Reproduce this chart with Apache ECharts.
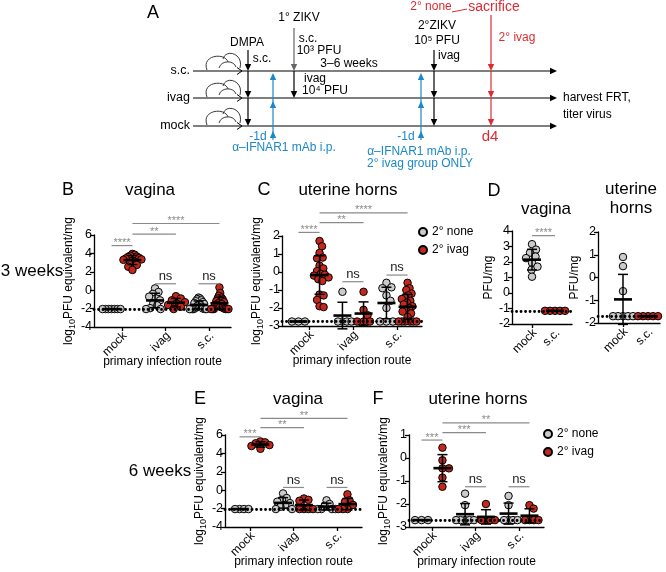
<!DOCTYPE html>
<html><head><meta charset="utf-8">
<script src="https://cdn.jsdelivr.net/npm/echarts@6/dist/echarts.min.js"></script>
<style>html,body{margin:0;padding:0;background:#fff}#c{width:666px;height:572px}</style>
</head><body><div id="c"></div>
<script>
const FONT = 'Liberation Sans';
// ---------------- DATA ----------------
const categories = ['mock', 'ivag', 's.c.'];
const categoriesD = ['mock', 's.c.'];
const seriesNames = ['2° none', '2° ivag'];

// B: 3 weeks, vagina (log10 PFU equivalent/mg); index = primary route
const vag3wNone = [
  [-2.05, -2.05, -2.05, -2.05, -2.05, -2.05, -2.05],
  [0.2, -0.2, -0.4, -0.7, -0.9, -1.1, -1.45, -1.65, -1.95, -2.05, -2.05],
  [-0.8, -0.9, -1.0, -1.1, -1.2, -1.3, -1.4, -1.5, -1.5, -1.6, -1.7, -1.8, -1.9, -2.0, -2.05, -2.05, -2.05, -2.05, -2.05, -2.05]
];
const vag3wIvag = [
  [3.95, 3.85, 3.75, 3.65, 3.6, 3.5, 3.45, 3.35, 3.3, 3.2, 3.1, 2.95, 2.75, 2.55, 2.2],
  [-0.65, -0.9, -1.1, -1.3, -1.45, -1.6, -1.8, -2.05],
  [0.3, -0.3, -0.6, -0.8, -0.9, -1.0, -1.1, -1.2, -1.3, -1.4, -1.5, -1.6, -1.7, -1.8, -1.9, -2.0, -2.05, -2.05, -2.05, -2.05, -2.05, -2.05]
];
const vag3wLOD = -2.05;
const vag3wSig = [['mock', '****'], ['mock-ivag', '**'], ['mock-s.c.', '****'], ['ivag', 'ns'], ['s.c.', 'ns']];

// C: 3 weeks, uterine horns
const ut3wNone = [
  [-2.75, -2.75, -2.75],
  [-1.1, -2.75, -2.75, -2.75, -2.75],
  [-0.6, -0.85, -0.9, -1.3, -1.6, -2.0, -2.75, -2.75, -2.75]
];
const ut3wIvag = [
  [1.72, 1.43, 1.06, 0.8, 0.76, 0.35, 0.2, 0.05, -0.1, -0.15, -0.2, -0.3, -0.4, -0.5, -1.25, -1.3, -1.55, -1.9, -1.95],
  [-1.1, -2.1, -2.4, -2.75, -2.75, -2.75],
  [-0.6, -0.9, -1.0, -1.2, -1.3, -1.4, -1.5, -1.6, -1.7, -1.8, -1.9, -2.0, -2.1, -2.2, -2.3, -2.5, -2.75, -2.75, -2.75, -2.75, -2.75, -2.75]
];
const ut3wLOD = -2.75;
const ut3wSig = [['mock', '****'], ['mock-ivag', '**'], ['mock-s.c.', '****'], ['ivag', 'ns'], ['s.c.', 'ns']];

// D: PFU/mg, mock vs s.c.
const dVagMock = [3.15, 2.8, 2.6, 2.35, 2.25, 1.95, 1.5, 1.7, 1.05];
const dVagSc = [-1.15, -1.15, -1.15, -1.15, -1.15];
const dVagLOD = -1.15;
const dVagSig = [['mock-s.c.', '****']];
const dUtMock = [0.9, 0.5, -0.6, -1.7, -1.7, -1.7, -1.7, -1.7];
const dUtSc = [-1.7, -1.7, -1.7, -1.7, -1.7];
const dUtLOD = -1.7;

// E: 6 weeks, vagina
const vag6wNone = [
  [-2.05, -2.05, -2.05, -2.05],
  [-0.35, -0.85, -1.05, -1.25, -1.4, -1.6, -1.8, -2.05, -2.05],
  [-1.1, -1.5, -1.7, -2.05, -2.05, -2.05, -2.05]
];
const vag6wIvag = [
  [5.3, 5.2, 5.1, 4.9, 4.8, 4.5],
  [-0.9, -1.05, -1.15, -2.05, -2.05, -2.05, -2.05],
  [-0.45, -1.1, -1.25, -1.6, -2.05, -2.05, -2.05]
];
const vag6wLOD = -2.05;
const vag6wSig = [['mock', '***'], ['mock-ivag', '**'], ['mock-s.c.', '**'], ['ivag', 'ns'], ['s.c.', 'ns']];

// F: 6 weeks, uterine horns
const ut6wNone = [
  [-2.7, -2.7, -2.7],
  [-1.55, -2.05, -2.7, -2.7, -2.7, -2.7, -2.7],
  [-1.65, -2.05, -2.7, -2.7, -2.7, -2.7]
];
const ut6wIvag = [
  [0.45, -0.1, -0.45, -0.45, -0.85, -1.25],
  [-2.0, -2.7, -2.7, -2.7, -2.7],
  [-2.05, -2.2, -2.7, -2.7, -2.7, -2.7]
];
const ut6wLOD = -2.7;
const ut6wSig = [['mock', '***'], ['mock-ivag', '***'], ['mock-s.c.', '**'], ['ivag', 'ns'], ['s.c.', 'ns']];

// ---------------- LAYOUT ----------------
const GRAY = '#cbcbcb', RED = '#c4281c', BLUE = '#1c88c8', ARED = '#dd2b33';
const OFF = 0.24;
const bracketSpan = { 'mock': [1 - OFF, 1 + OFF], 'mock-ivag': [1 + OFF, 2 + OFF], 'mock-s.c.': [1 + OFF, 3 + OFF], 'ivag': [2 - OFF, 2 + OFF], 's.c.': [3 - OFF, 3 + OFF] };
const bracketSpanD = { 'mock-s.c.': [1, 2] };
const LOGNAME = 'log{s|10}PFU equivalent/mg';

const panels = [
  { grid: { left: 94, top: 235, width: 137, height: 92 }, c1: 122, step: 43.5, y: [-4, 6, 2], cats: categories,
    none: vag3wNone, ivag: vag3wIvag, lod: vag3wLOD, sig: vag3wSig, sigLevels: [4.85, 6.1, 7.25, 0.7, 0.7], yName: LOGNAME, xName: true },
  { grid: { left: 282, top: 236, width: 140, height: 90 }, c1: 309, step: 44, y: [-3, 2, 1], cats: categories,
    none: ut3wNone, ivag: ut3wIvag, lod: ut3wLOD, sig: ut3wSig, sigLevels: [2.2, 2.74, 3.29, -0.54, -0.17], yName: LOGNAME, xName: true },
  { grid: { left: 512, top: 231, width: 60, height: 93 }, c1: 532, step: 23, y: [-2, 4, 1], cats: categoriesD,
    dNone: dVagMock, dIvag: dVagSc, lod: dVagLOD, sig: dVagSig, sigLevels: [3.7], yName: 'PFU/mg', xName: false },
  { grid: { left: 598, top: 232, width: 62, height: 91 }, c1: 623, step: 25, y: [-2, 2, 1], cats: categoriesD,
    dNone: dUtMock, dIvag: dUtSc, lod: dUtLOD, sig: [], sigLevels: [], yName: 'PFU/mg', xName: false },
  { grid: { left: 225, top: 435, width: 137, height: 92 }, c1: 250, step: 43.5, y: [-4, 6, 2], cats: categories,
    none: vag6wNone, ivag: vag6wIvag, lod: vag6wLOD, sig: vag6wSig, sigLevels: [5.8, 6.8, 7.8, 0.3, 0.3], yName: LOGNAME, xName: true },
  { grid: { left: 409, top: 435, width: 135, height: 92 }, c1: 432, step: 43.5, y: [-3, 1, 1], cats: categories,
    none: ut6wNone, ivag: ut6wIvag, lod: ut6wLOD, sig: ut6wSig, sigLevels: [0.78, 1.1, 1.53, -1.25, -1.25], yName: LOGNAME, xName: true }
];

function mean(a) { return a.reduce((s, v) => s + v, 0) / a.length; }
function sd(a) { const m = mean(a); return a.length < 2 ? 0 : Math.sqrt(a.reduce((s, v) => s + (v - m) * (v - m), 0) / (a.length - 1)); }
// deterministic beeswarm layout (pixel offsets)
function swarm(values, pxY, dmin, maxHalf) {
  const idx = values.map((v, i) => i).sort((a, b) => values[b] - values[a]);
  const placed = [], off = new Array(values.length).fill(0);
  for (const i of idx) {
    const y = values[i] * pxY;
    let best = 0;
    for (let k = 0; k < 400; k++) {
      const cand = (k % 2 === 1 ? 1 : -1) * Math.ceil(k / 2) * 0.5;
      let ok = true;
      for (const p of placed) { const dx = cand - p.x, dy = y - p.y; if (dx * dx + dy * dy < dmin * dmin) { ok = false; break; } }
      if (ok) { best = cand; break; }
    }
    placed.push({ x: best, y }); off[i] = best;
  }
  const m = Math.max(0, ...off.map(Math.abs));
  const s = m > maxHalf ? maxHalf / m : 1;
  return off.map(o => o * s + 0);
}

const grids = [], xAxes = [], yAxes = [], series = [];
const axisLineStyle = { color: '#000', width: 1.3 };
const FS = { fontFamily: FONT, color: '#000' };
panels.forEach((p, k) => {
  const gi = 2 * k, gc = 2 * k + 1;
  const n = p.cats.length;
  const xmin = 1 - (p.c1 - p.grid.left) / p.step;
  const xmax = xmin + p.grid.width / p.step;
  grids.push(Object.assign({}, p.grid));
  grids.push({ left: p.c1 - p.step / 2, width: p.step * n, top: p.grid.top, height: p.grid.height });
  const pxY = p.grid.height / (p.y[1] - p.y[0]);
  const pxX = p.step;
  const groups = [];
  if (p.none) {
    for (let i = 0; i < 3; i++) {
      groups.push({ cat: i + 1, off: -OFF, vals: p.none[i], kind: 0 });
      groups.push({ cat: i + 1, off: OFF, vals: p.ivag[i], kind: 1 });
    }
  } else {
    groups.push({ cat: 1, off: 0, vals: p.dNone, kind: 0 });
    groups.push({ cat: 2, off: 0, vals: p.dIvag, kind: 1 });
  }
  const pts = [[], []], bars = [];
  groups.forEach(g => {
    const offs = swarm(g.vals, pxY, 6.5, p.none ? 9 : 10);
    g.vals.forEach((v, i) => pts[g.kind].push([g.cat + g.off + offs[i] / pxX, v]));
    bars.push([g.cat + g.off, mean(g.vals), sd(g.vals)]);
  });
  xAxes.push({
    gridIndex: gi, type: 'value', min: xmin, max: xmax,
    axisLine: { show: true, onZero: false, lineStyle: axisLineStyle },
    axisTick: { show: false }, axisLabel: { show: false }, splitLine: { show: false },
    name: p.xName ? 'primary infection route' : '', nameLocation: 'middle', nameGap: 29,
    nameTextStyle: Object.assign({ fontSize: 12 }, FS)
  });
  yAxes.push({
    gridIndex: gi, type: 'value', min: p.y[0], max: p.y[1], interval: p.y[2],
    axisLine: { show: true, onZero: false, lineStyle: axisLineStyle },
    axisTick: { show: true, length: 4, lineStyle: axisLineStyle },
    axisLabel: Object.assign({ fontSize: 12.5, margin: 2 }, FS),
    splitLine: { show: false },
    name: p.yName, nameLocation: 'middle', nameGap: 15,
    nameTextStyle: Object.assign({ fontSize: 12, rich: { s: Object.assign({ fontSize: 9, padding: [7, 0, 0, 0] }, FS) } }, FS)
  });
  // category axis for tick marks
  xAxes.push({
    gridIndex: gc, type: 'category', data: p.cats, boundaryGap: true,
    axisLine: { show: false, onZero: false },
    axisTick: { show: true, alignWithLabel: true, length: 4, lineStyle: axisLineStyle },
    axisLabel: { show: false },
    splitLine: { show: false }
  });
  yAxes.push({ gridIndex: gc, type: 'value', min: 0, max: 1, show: false });

  const base = { xAxisIndex: gi, yAxisIndex: gi };
  series.push(Object.assign({
    type: 'scatter', name: seriesNames[0], data: pts[0], symbol: 'circle', symbolSize: 7.5, z: 3,
    itemStyle: { color: GRAY, borderColor: '#000', borderWidth: 1, opacity: 1 },
    markLine: { silent: true, symbol: 'none', label: { show: false }, data: [{ yAxis: p.lod }],
      lineStyle: { color: '#000', type: [0.1, 4.4], width: 2.8, cap: 'round' }, animation: false }
  }, base));
  series.push(Object.assign({
    type: 'scatter', name: seriesNames[1], data: pts[1], symbol: 'circle', symbolSize: 7.5, z: 3,
    itemStyle: { color: RED, borderColor: '#000', borderWidth: 1, opacity: 1 }
  }, base));
  series.push(Object.assign({
    type: 'custom', name: 'meanSD', data: bars, z: 5, silent: true, encode: { x: 0, y: 1 },
    renderItem(params, api) {
      const x = api.value(0), m = api.value(1), s = api.value(2);
      const c = api.coord([x, m]), t = api.coord([x, m + s]), b = api.coord([x, m - s]);
      const st = { stroke: '#000', lineWidth: 1.5 };
      return { type: 'group', children: [
        { type: 'line', shape: { x1: c[0], y1: t[1], x2: c[0], y2: b[1] }, style: st },
        { type: 'line', shape: { x1: c[0] - 5, y1: t[1], x2: c[0] + 5, y2: t[1] }, style: st },
        { type: 'line', shape: { x1: c[0] - 5, y1: b[1], x2: c[0] + 5, y2: b[1] }, style: st },
        { type: 'line', shape: { x1: c[0] - 9, y1: c[1], x2: c[0] + 9, y2: c[1] }, style: { stroke: '#000', lineWidth: 2.6 } }
      ] };
    }
  }, base));
  const spans = p.none ? bracketSpan : bracketSpanD;
  const sigRows = p.sig.map((s, i) => [spans[s[0]][0], p.sigLevels[i], spans[s[0]][1], s[1]]);
  if (sigRows.length) {
    series.push(Object.assign({
      type: 'custom', name: 'sig', data: sigRows.map(r => [r[0], r[1], r[2]]), z: 4, silent: true, encode: { x: [0, 2], y: 1 },
      renderItem(params, api) {
        const a = api.coord([api.value(0), api.value(1)]), b = api.coord([api.value(2), api.value(1)]);
        const txt = sigRows[params.dataIndex][3];
        const ns = txt === 'ns';
        return { type: 'group', children: [
          { type: 'line', shape: { x1: a[0], y1: a[1], x2: b[0], y2: b[1] }, style: { stroke: '#8a8a8a', lineWidth: 1.2 } },
          { type: 'text', x: (a[0] + b[0]) / 2, y: ns ? a[1] - 1 : a[1] + 3,
            style: { text: txt, align: 'center', verticalAlign: 'bottom', fill: ns ? '#222' : '#8a8a8a', fontSize: ns ? 13 : 11, fontFamily: FONT } }
        ] };
      }
    }, base));
  }
});

// ---------------- PANEL A DIAGRAM + LABELS (graphic) ----------------
const G = [];
function T(text, x, y, o) {
  o = o || {};
  G.push({ type: 'text', x, y, silent: true, style: { text, align: o.align || 'center', verticalAlign: 'middle',
    fill: o.color || '#000', fontSize: o.size || 12, fontFamily: FONT } });
}
function L(x1, y1, x2, y2, color, w) { G.push({ type: 'line', silent: true, shape: { x1, y1, x2, y2 }, style: { stroke: color || '#000', lineWidth: w || 1.2 } }); }
function head(x, y, dir, color) {
  const a = 3.2, l = 7;
  let pts;
  if (dir === 'down') pts = [[x, y], [x - a, y - l], [x + a, y - l]];
  else if (dir === 'up') pts = [[x, y], [x - a, y + l], [x + a, y + l]];
  else pts = [[x, y], [x - l, y - a], [x - l, y + a]];
  G.push({ type: 'polygon', silent: true, shape: { points: pts }, style: { fill: color || '#000' } });
}
function downArrow(x, y1, y2, color, w) { L(x, y1, x, y2 - 3, color, w); head(x, y2, 'down', color); }
const rows = [71, 98, 126];
const rowLabels = ['s.c.', 'ivag', 'mock'];
rows.forEach((y, i) => {
  T(rowLabels[i], 190, y, { align: 'right', size: 12.5 });
  L(193, y, 552, y, '#000', 1.2); head(557, y, 'right');
  G.push({ type: 'polyline', silent: true, shape: { points: [[237, y - 3.5], [242, y], [237, y + 3.5]] }, style: { stroke: '#000', lineWidth: 1, fill: null } });
  G.push({ type: 'bezierCurve', silent: true, shape: { x1: 207, y1: y - 1, cpx1: 201, cpy1: y - 16, cpx2: 225, cpy2: y - 19, x2: 228, y2: y - 9 }, style: { stroke: '#222', lineWidth: 0.9, fill: null } });
  G.push({ type: 'bezierCurve', silent: true, shape: { x1: 223, y1: y - 12, cpx1: 226, cpy1: y - 23, cpx2: 244, cpy2: y - 17, x2: 240, y2: y - 3 }, style: { stroke: '#222', lineWidth: 0.9, fill: null } });
  G.push({ type: 'bezierCurve', silent: true, shape: { x1: 219, y1: y - 3, cpx1: 221, cpy1: y - 11, cpx2: 234, cpy2: y - 11, x2: 236, y2: y - 4 }, style: { stroke: '#222', lineWidth: 0.9, fill: null } });
});
T('A', 153, 13, { size: 18 });
T('DMPA', 247, 43); T('s.c.', 262, 59);
downArrow(248, 50, 71); downArrow(248, 71, 98); downArrow(248, 98, 126);
T('1° ZIKV', 299, 18); T('s.c.', 308, 39); T('10³ PFU', 319, 51);
downArrow(294, 28, 71, '#666'); downArrow(294, 71, 98);
T('ivag', 315, 79); T('10⁴ PFU', 325, 91);
T('3–6 weeks', 349, 64);
[273, 421].forEach(x => {
  L(x, 140, x, 75, BLUE, 1.2);
  head(x, 131, 'up', BLUE); head(x, 101, 'up', BLUE); head(x, 73, 'up', BLUE);
  T('-1d', x - 15, 137, { color: BLUE });
});
T('α–IFNAR1 mAb i.p.', 284, 148, { color: BLUE });
T('α–IFNAR1 mAb i.p.', 419, 152, { color: BLUE });
T('2° ivag group ONLY', 420, 164, { color: BLUE });
T('2°ZIKV', 437, 26); T('10⁵ PFU', 437, 41); T('ivag', 449, 56);
downArrow(434, 50, 71); downArrow(434, 71, 98); downArrow(434, 98, 126);
T('2° none', 431, 7, { color: ARED }); T('sacrifice', 494, 7, { color: ARED, size: 14 });
L(452, 12, 467, 9, ARED, 1);
downArrow(491, 15, 71, ARED); downArrow(491, 71, 98, ARED); downArrow(491, 98, 126, ARED);
T('2° ivag', 517, 38, { color: ARED });
T('d4', 490, 137, { color: ARED, size: 15 });
T('harvest FRT,', 563, 98, { align: 'left' });
T('titer virus', 563, 115, { align: 'left' });
T('B', 68, 190, { size: 18 }); T('vagina', 150, 190, { size: 17 });
T('C', 264, 190, { size: 18 }); T('uterine horns', 348, 190, { size: 17 });
T('D', 494, 191, { size: 18 }); T('vagina', 546, 209, { size: 17 });
T('uterine', 631, 189, { size: 17 }); T('horns', 631, 208, { size: 17 });
T('E', 200, 399, { size: 18 }); T('vagina', 298, 399, { size: 17 });
T('F', 378, 399, { size: 18 }); T('uterine horns', 478, 399, { size: 17 });
T('3 weeks', 32, 271, { size: 17 });
T('6 weeks', 160, 471, { size: 17 });

const legendBase = { orient: 'vertical', data: seriesNames, itemWidth: 8, itemHeight: 8, itemGap: 6, icon: 'circle',
  textStyle: { fontSize: 12, color: '#000', fontFamily: FONT }, selectedMode: false, padding: 0 };

const chart = echarts.init(document.getElementById('c'));
chart.setOption({
  animation: false,
  backgroundColor: '#fff',
  textStyle: { fontFamily: FONT },
  grid: grids, xAxis: xAxes, yAxis: yAxes, series,
  legend: [Object.assign({ left: 418, top: 226 }, legendBase), Object.assign({ left: 543, top: 428 }, legendBase)],
  graphic: G
});
// rotated category labels, placed through the axes' own scales
const tickLabels = [];
panels.forEach((p, k) => {
  p.cats.forEach((c, i) => {
    const pt = chart.convertToPixel({ xAxisIndex: 2 * k, yAxisIndex: 2 * k }, [i + 1, p.y[0]]);
    tickLabels.push({ type: 'text', x: pt[0] + 3, y: pt[1] + 7, rotation: Math.PI / 4, silent: true,
      style: { text: c, align: 'right', verticalAlign: 'middle', fontSize: 12, fontFamily: FONT, fill: '#000' } });
  });
});
chart.setOption({ graphic: G.concat(tickLabels) });
</script></body></html>
